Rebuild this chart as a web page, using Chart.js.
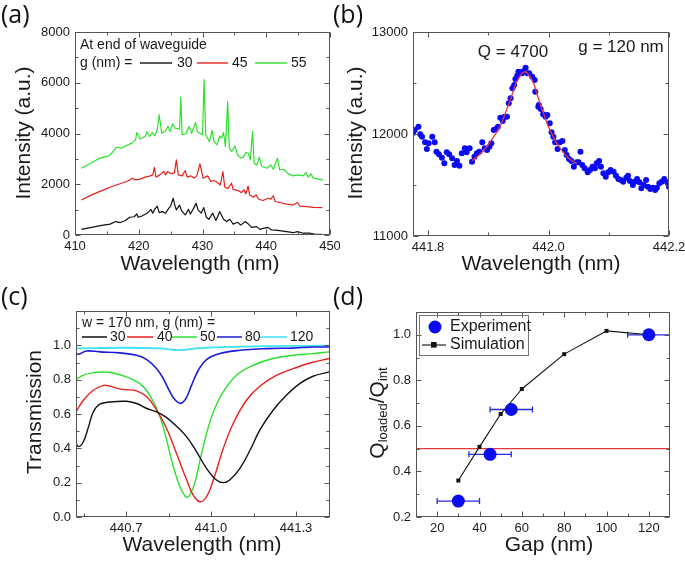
<!DOCTYPE html>
<html><head><meta charset="utf-8">
<script src="https://cdn.jsdelivr.net/npm/chart.js@4.4.0/dist/chart.umd.min.js"></script>
<style>
html,body{margin:0;padding:0;background:#fff;}
#wrap{position:relative;width:685px;height:561px;overflow:hidden;background:#fff;}
canvas{position:absolute;}
.pl{position:absolute;font-family:"Open Sans",sans-serif;font-size:25px;line-height:1;color:#111;z-index:5;}
</style></head><body>
<div id="wrap">
<canvas id="ca" width="340" height="280" style="left:0;top:0"></canvas>
<canvas id="cb" width="345" height="280" style="left:340px;top:0"></canvas>
<canvas id="cc" width="340" height="281" style="left:0;top:280px"></canvas>
<canvas id="cd" width="345" height="281" style="left:340px;top:280px"></canvas>
<div class="pl" style="left:1px;top:1px">(a)</div>
<div class="pl" style="left:333px;top:1px">(b)</div>
<div class="pl" style="left:1px;top:283px">(c)</div>
<div class="pl" style="left:333px;top:283px">(d)</div>
</div>
<script>
// ---------- Panel (a): spectra at end of waveguide ----------
const aWl30 = [411.0,412.6,414.2,415.5,416.4,417.1,417.9,418.6,419.3,419.7,419.9,420.5,421.1,421.6,421.9,422.2,422.5,422.9,423.2,423.7,424.2,424.7,425.0,425.4,425.7,425.9,426.4,426.7,427.3,427.8,428.1,428.6,429.0,429.3,429.8,430.2,430.6,431.0,431.6,432.1,432.7,433.3,433.8,434.3,434.8,435.5,436.0,436.7,437.2,437.7,438.5,439.0,439.5,440.3,440.8,441.5,442.1,443.2,444.2,444.9,445.8,446.9,447.6,448.7];
const aInt30 = [220,300,380,430,530,490,570,700,720,830,700,750,830,920,1010,860,1010,1140,880,920,860,1050,1140,1450,1140,990,1180,960,790,1010,830,1050,1250,990,860,1080,700,620,860,570,920,620,530,620,430,500,390,530,430,300,330,220,260,300,200,190,170,130,90,130,70,70,40,30];
const aWl45 = [411.0,412.6,414.2,415.8,417.3,418.4,419.0,419.4,420.2,421.0,421.8,422.2,422.45,422.7,423.3,423.9,424.2,424.5,425.1,425.6,425.9,426.2,426.8,427.3,427.6,428.2,428.7,429.1,429.6,430.1,430.8,431.3,431.7,432.1,432.5,432.8,433.2,433.5,434.0,434.55,434.8,435.6,436.1,436.5,436.8,437.15,437.4,438.0,438.4,438.8,439.5,440.3,440.7,441.1,441.4,442.1,443.2,444.2,444.9,445.3,446.3,447.4,448.8];
const aInt45 = [1380,1580,1750,1910,2040,2140,2240,2170,2200,2280,2330,2370,2670,2280,2370,2500,2370,2500,2410,2460,2960,2370,2330,2540,2280,2330,2240,2330,2800,2240,2330,2110,2150,2110,2040,1970,2500,1880,1840,2040,1800,1750,1670,1780,1620,1930,1580,1490,1580,1410,1360,1450,1410,1540,1320,1280,1220,1180,1280,1140,1120,1090,1080];
const aWl55 = [411.0,412.6,413.9,415.3,416.0,416.5,417.3,417.9,418.9,419.5,419.7,420.2,421.0,421.3,421.7,422.1,422.5,422.9,423.2,423.6,424.1,424.6,424.9,425.3,425.7,426.4,426.6,426.8,427.4,427.9,428.3,428.9,429.2,429.6,430.0,430.25,430.5,431.1,431.5,431.8,432.3,432.7,433.0,433.3,433.6,433.95,434.2,434.6,435.1,435.5,436.0,436.4,436.8,437.2,437.5,437.85,438.1,438.5,438.9,439.3,440.1,440.7,441.1,441.75,442.1,442.7,443.5,444.2,445.0,445.8,446.2,446.6,447.0,447.4,448.2,448.9];
const aInt55 = [2630,2850,3030,3120,3290,3460,3420,3510,3620,3750,4040,3780,3880,4070,3880,4040,3910,4140,4740,4010,4080,4280,4080,4380,4210,4170,5430,3950,3990,4280,4010,4430,4080,4010,3950,6120,3950,3680,4120,3680,3550,3900,3820,4040,3490,5260,3420,3290,3510,3160,3030,3070,3250,3220,2960,4080,2830,2760,3070,2700,2630,2760,2590,3030,2570,2590,2410,2330,2370,2330,2460,2280,2410,2240,2200,2170];
const aGapLabels = ['30','45','55'];
const aXTicks = [410,420,430,440,450], aXMinor = [415,425,435,445];
const aYTicks = [0,2000,4000,6000,8000], aYMinor = [1000,3000,5000,7000];

// ---------- Panel (b): resonance, g = 120 nm ----------
const bWl = [441.775,441.778,441.784,441.787,441.790,441.795,441.798,441.801,441.807,441.811,441.814,441.818,441.823,441.827,441.831,441.835,441.840,441.844,441.848,441.852,441.856,441.861,441.864,441.869,441.873,441.877,441.881,441.885,441.890,441.894,441.898,441.902,441.905,441.909,441.913,441.916,441.920,441.924,441.927,441.931,441.934,441.937,441.940,441.943,441.945,441.948,441.950,441.954,441.956,441.959,441.962,441.965,441.968,441.973,441.977,441.978,441.983,441.984,441.987,441.991,441.995,441.998,442.002,442.005,442.008,442.011,442.015,442.019,442.023,442.027,442.030,442.034,442.038,442.042,442.047,442.050,442.053,442.056,442.060,442.065,442.069,442.073,442.077,442.080,442.084,442.087,442.091,442.095,442.099,442.103,442.108,442.112,442.116,442.120,442.124,442.129,442.132,442.135,442.140,442.143,442.147,442.151,442.154,442.158,442.162,442.165,442.169,442.173,442.177,442.180,442.184,442.188,442.192,442.197,442.200];
const bInt = [12010,12039,12072,11997,11974,11919,11853,11909,11974,11919,11826,11801,11768,11713,11821,11801,11762,11696,11735,11689,11811,11860,11821,11860,11728,11777,11811,11826,11919,11860,11843,11876,11909,12039,12049,12072,12160,12127,12170,12170,12301,12350,12448,12480,12539,12572,12611,12605,12595,12618,12650,12595,12595,12562,12529,12415,12268,12284,12245,12193,12170,12186,12105,12017,11974,11919,11853,11919,11931,11843,11794,11755,11735,11679,11723,11723,11826,11696,11664,11625,11647,11679,11664,11713,11735,11679,11615,11581,11625,11647,11630,11591,11559,11549,11532,11572,11591,11539,11500,11532,11559,11526,11468,11500,11549,11483,11461,11474,11451,11474,11517,11532,11559,11526,11483];
const bFitWl = [441.873,441.886,441.898,441.911,441.920,441.928,441.937,441.945,441.954,441.960,441.966,441.975,441.983,441.992,442.000,442.009,442.017,442.026,442.034,442.047];
const bFitInt = [11740,11800,11880,11990,12080,12200,12340,12480,12580,12610,12590,12500,12350,12200,12070,11960,11880,11810,11760,11710];
const bXTicks = [441.8,442.0,442.2], bXMinor = [441.9,442.1];
const bYTicks = [11000,12000,13000], bYMinor = [11500,12500];

// ---------- Panel (c): simulated transmission ----------
const cWl30 = [440.520,440.532,440.549,440.567,440.584,440.607,440.643,440.701,440.737,440.773,440.808,440.843,440.878,440.914,440.949,440.984,441.019,441.043,441.066,441.102,441.138,441.172,441.219,441.266,441.313,441.360,441.417];
const cT30 = [0.438,0.41,0.438,0.525,0.612,0.657,0.670,0.674,0.661,0.632,0.612,0.579,0.529,0.467,0.380,0.283,0.215,0.2,0.215,0.283,0.390,0.506,0.622,0.709,0.777,0.820,0.845];
const cWl40 = [440.520,440.549,440.584,440.620,440.643,440.673,440.701,440.737,440.773,440.808,440.843,440.878,440.914,440.937,440.961,440.984,441.008,441.043,441.078,441.125,441.172,441.232,441.290,441.349,441.417];
const cT40 = [0.603,0.680,0.738,0.767,0.762,0.748,0.742,0.735,0.700,0.622,0.516,0.370,0.215,0.128,0.089,0.118,0.215,0.399,0.545,0.680,0.762,0.826,0.864,0.897,0.923];
const cWl50 = [440.520,440.549,440.584,440.620,440.654,440.701,440.749,440.784,440.820,440.843,440.867,440.890,440.908,440.916,440.925,440.943,440.961,440.984,441.008,441.043,441.090,441.149,441.219,441.290,441.360,441.417];
const cT50 = [0.797,0.826,0.841,0.845,0.839,0.816,0.777,0.709,0.583,0.448,0.293,0.176,0.122,0.115,0.128,0.2,0.331,0.486,0.612,0.729,0.826,0.884,0.923,0.942,0.952,0.962];
const cWl80 = [440.520,440.532,440.560,440.607,440.678,440.737,440.773,440.808,440.831,440.855,440.872,440.892,440.911,440.931,440.955,440.984,441.031,441.102,441.196,441.290,441.360,441.417];
const cT80 = [0.955,0.948,0.967,0.962,0.956,0.942,0.917,0.864,0.806,0.729,0.684,0.662,0.690,0.767,0.855,0.917,0.952,0.971,0.981,0.984,0.990,0.990];
const cWl120 = [440.520,440.701,440.820,440.890,440.961,441.114,441.417];
const cT120 = [0.982,0.986,0.982,0.972,0.984,0.993,0.998];
const cGapLabels = ['30','40','50','80','120'];
const cXTicks = [440.7,441.0,441.3], cXMinor = [440.55,440.85,441.15];
const cYTicks = [0,0.2,0.4,0.6,0.8,1.0], cYMinor = [0.1,0.3,0.5,0.7,0.9,1.1];

// ---------- Panel (d): Q ratio vs gap ----------
const dExpGap = [30,45,55,120];
const dExpRatio = [0.27,0.475,0.672,1.0];
const dExpGapErr = [10,10,10,10];
const dSimGap = [30,40,50,60,80,100,120];
const dSimRatio = [0.36,0.508,0.652,0.762,0.915,1.017,1.0];
const dCritical = 0.5;
const dXTicks = [20,40,60,80,100,120], dXMinor = [30,50,70,90,110];
const dYTicks = [0.2,0.4,0.6,0.8,1.0], dYMinor = [0.3,0.5,0.7,0.9];

// ---------- styling ----------
const FONT = '"Liberation Sans", Arial, sans-serif';
const FRAME = '#555';
const TXT = '#1a1a1a';
const COL = {black:'#111111', red:'#e8201c', green:'#2ee02e', blue:'#1c1cd6', cyan:'#3ee2f2', dot:'#0b0bf2'};

const xy = (xs, ys) => xs.map((v,i)=>({x:v, y:ys[i]}));

function deco(o){
  return {
    id:'deco',
    beforeDatasetsDraw(chart){ if(o.under) o.under(chart, chart.ctx); },
    afterDraw(chart){
      const ctx = chart.ctx, a = chart.chartArea, xs = chart.scales.x, ys = chart.scales.y;
      ctx.save();
      const L = Math.round(a.left)+0.5, R = Math.round(a.right)-0.5, T = Math.round(a.top)+0.5, B = Math.round(a.bottom)-0.5;
      ctx.strokeStyle = FRAME; ctx.lineWidth = 1;
      ctx.beginPath();
      const xt = (vals,len)=>vals.forEach(v=>{const p=Math.round(xs.getPixelForValue(v))+0.5; ctx.moveTo(p,B); ctx.lineTo(p,B-len); ctx.moveTo(p,T); ctx.lineTo(p,T+len);});
      const yt = (vals,len)=>vals.forEach(v=>{const p=Math.round(ys.getPixelForValue(v))+0.5; ctx.moveTo(L,p); ctx.lineTo(L+len,p); ctx.moveTo(R,p); ctx.lineTo(R-len,p);});
      xt(o.xMajor,5); xt(o.xMinor,3); yt(o.yMajor,5); yt(o.yMinor,3);
      ctx.stroke();
      ctx.strokeRect(L,T,R-L,B-T);
      ctx.fillStyle = TXT; ctx.textAlign='center'; ctx.textBaseline='middle';
      ctx.font = `21px ${FONT}`;
      ctx.fillText(o.xTitle, o.xTitlePos[0], o.xTitlePos[1]);
      if (o.yTitle){
        ctx.save(); ctx.translate(o.yTitlePos[0], o.yTitlePos[1]); ctx.rotate(-Math.PI/2);
        ctx.fillText(o.yTitle,0,0); ctx.restore();
      }
      if (o.extra) o.extra(chart, ctx);
      ctx.restore();
    }
  };
}

function opts(L){
  const tickFont = {family:FONT, size:13};
  return {
    responsive:false, animation:false, devicePixelRatio:1, events:[],
    layout:{padding:{left:0, top:L.top, right:L.right, bottom:0}},
    plugins:{legend:{display:false}, tooltip:{enabled:false}},
    elements:{line:{borderJoinStyle:'round'}},
    scales:{
      x:{type:'linear', min:L.xMin, max:L.xMax,
         grid:{display:false, drawTicks:false}, border:{display:false},
         ticks:{font:tickFont, color:TXT, padding:4, autoSkip:false, maxRotation:0, minRotation:0, callback:L.xFmt},
         afterBuildTicks:s=>{s.ticks = L.xTicks.map(v=>({value:v}));},
         afterFit:s=>{s.height=L.xH; s.paddingLeft=0; s.paddingRight=0;}},
      y:{type:'linear', min:L.yMin, max:L.yMax,
         grid:{display:false, drawTicks:false}, border:{display:false},
         ticks:{font:tickFont, color:TXT, padding:5, autoSkip:false, callback:L.yFmt},
         afterBuildTicks:s=>{s.ticks = L.yTicks.map(v=>({value:v}));},
         afterFit:s=>{s.width=L.yW; s.paddingTop=0; s.paddingBottom=0;}}
    }
  };
}

function lineDs(data, color, width, tension){
  return {data, borderColor:color, borderWidth:width, showLine:true, pointRadius:0, fill:false, tension:tension||0};
}

function legendLine(ctx, x1, x2, y, color, w){
  ctx.save(); ctx.strokeStyle=color; ctx.lineWidth=w; ctx.beginPath(); ctx.moveTo(x1,y); ctx.lineTo(x2,y); ctx.stroke(); ctx.restore();
}

// ---------- Chart (a) ----------
new Chart(document.getElementById('ca'), {
  type:'scatter',
  data:{datasets:[
    lineDs(xy(aWl30,aInt30), COL.black, 1.2),
    lineDs(xy(aWl45,aInt45), COL.red, 1.2),
    lineDs(xy(aWl55,aInt55), COL.green, 1.2)
  ]},
  options:opts({top:32, right:10, xH:45, yW:75, xMin:410, xMax:450, yMin:0, yMax:8000,
    xTicks:aXTicks, yTicks:aYTicks, xFmt:v=>String(v), yFmt:v=>String(v)}),
  plugins:[deco({xMajor:aXTicks, xMinor:aXMinor, yMajor:aYTicks, yMinor:aYMinor,
    xTitle:'Wavelength (nm)', xTitlePos:[200,264], yTitle:'Intensity (a.u.)', yTitlePos:[24,133],
    extra:(chart, ctx)=>{
      ctx.font = `14px ${FONT}`; ctx.textAlign='left'; ctx.textBaseline='middle'; ctx.fillStyle=TXT;
      ctx.fillText('At end of waveguide', 80, 45);
      ctx.fillText('g (nm) =', 80, 63);
      const segs = [[140,172,177],[197,228,232],[255,287,291]];
      const cols = [COL.black, COL.red, COL.green];
      segs.forEach((s,i)=>{ legendLine(ctx, s[0], s[1], 63, cols[i], 1.4); ctx.fillText(aGapLabels[i], s[2], 63); });
    }})]
});

// ---------- Chart (b) ----------
new Chart(document.getElementById('cb'), {
  type:'scatter',
  data:{datasets:[
    lineDs(xy(bFitWl,bFitInt), '#e53a3a', 1.3, 0.4),
    {data:xy(bWl,bInt), showLine:false, pointRadius:3, pointBackgroundColor:COL.dot, pointBorderWidth:0, borderColor:COL.dot}
  ]},
  options:opts({top:32, right:16, xH:44, yW:73, xMin:441.775, xMax:442.2, yMin:11000, yMax:13000,
    xTicks:bXTicks, yTicks:bYTicks, xFmt:v=>v.toFixed(1), yFmt:v=>String(v)}),
  plugins:[deco({xMajor:bXTicks, xMinor:bXMinor, yMajor:bYTicks, yMinor:bYMinor,
    xTitle:'Wavelength (nm)', xTitlePos:[201,264], yTitle:'Intensity (a.u.)', yTitlePos:[16,133],
    extra:(chart, ctx)=>{
      ctx.font = `17px ${FONT}`; ctx.textAlign='center'; ctx.textBaseline='middle'; ctx.fillStyle=TXT;
      ctx.fillText('Q = 4700', 173, 52);
      ctx.fillText('g = 120 nm', 281, 47);
    }})]
});

// ---------- Chart (c) ----------
new Chart(document.getElementById('cc'), {
  type:'scatter',
  data:{datasets:[
    lineDs(xy(cWl30,cT30), COL.black, 1.4, 0.4),
    lineDs(xy(cWl40,cT40), COL.red, 1.4, 0.4),
    lineDs(xy(cWl50,cT50), COL.green, 1.4, 0.4),
    lineDs(xy(cWl80,cT80), COL.blue, 1.6, 0.4),
    lineDs(xy(cWl120,cT120), COL.cyan, 1.8, 0.4)
  ]},
  options:opts({top:31, right:10, xH:44, yW:76, xMin:440.523, xMax:441.42, yMin:0, yMax:1.2,
    xTicks:cXTicks, yTicks:cYTicks, xFmt:v=>v.toFixed(1), yFmt:v=>v.toFixed(1)}),
  plugins:[deco({xMajor:cXTicks, xMinor:cXMinor, yMajor:cYTicks, yMinor:cYMinor,
    xTitle:'Wavelength (nm)', xTitlePos:[202,265], yTitle:'Transmission', yTitlePos:[35,132],
    extra:(chart, ctx)=>{
      ctx.font = `14px ${FONT}`; ctx.textAlign='left'; ctx.textBaseline='middle'; ctx.fillStyle=TXT;
      ctx.fillText('w = 170 nm, g (nm) =', 82, 43);
      const segs = [[82,107,110],[127,153,157],[172,197,200],[217,242,245],[260,287,290]];
      const cols = [COL.black, COL.red, COL.green, COL.blue, COL.cyan];
      segs.forEach((s,i)=>{ legendLine(ctx, s[0], s[1], 57, cols[i], 1.5); ctx.fillText(cGapLabels[i], s[2], 57); });
    }})]
});

// ---------- Chart (d) ----------
new Chart(document.getElementById('cd'), {
  type:'scatter',
  data:{datasets:[
    {data:xy(dExpGap,dExpRatio), showLine:false, pointRadius:6.5, pointBackgroundColor:COL.dot, pointBorderWidth:0, borderColor:COL.dot},
    {data:xy(dSimGap,dSimRatio), showLine:true, borderColor:'#111', borderWidth:1.1, pointStyle:'rect', pointRadius:2.8, pointBackgroundColor:'#111', pointBorderWidth:0},
    lineDs([{x:10,y:dCritical},{x:130,y:dCritical}], '#e03a3a', 1.3)
  ]},
  options:opts({top:32, right:15, xH:44, yW:76, xMin:10, xMax:130, yMin:0.2, yMax:1.1,
    xTicks:dXTicks, yTicks:dYTicks, xFmt:v=>String(v), yFmt:v=>v.toFixed(1)}),
  plugins:[deco({xMajor:dXTicks, xMinor:dXMinor, yMajor:dYTicks, yMinor:dYMinor,
    xTitle:'Gap (nm)', xTitlePos:[209,265], yTitle:null,
    under:(chart, ctx)=>{
      const xs = chart.scales.x, ys = chart.scales.y, a = chart.chartArea;
      ctx.save();
      ctx.beginPath(); ctx.rect(a.left, a.top, a.width, a.height); ctx.clip();
      ctx.strokeStyle = '#2a2ae0'; ctx.lineWidth = 1.3; ctx.beginPath();
      dExpGap.forEach((g,i)=>{
        const y = ys.getPixelForValue(dExpRatio[i]);
        const x1 = xs.getPixelForValue(g - dExpGapErr[i]), x2 = xs.getPixelForValue(g + dExpGapErr[i]);
        ctx.moveTo(x1,y); ctx.lineTo(x2,y);
        ctx.moveTo(x1,y-3); ctx.lineTo(x1,y+3);
        ctx.moveTo(x2,y-3); ctx.lineTo(x2,y+3);
      });
      ctx.stroke(); ctx.restore();
    },
    extra:(chart, ctx)=>{
      ctx.save(); ctx.translate(38,133); ctx.rotate(-Math.PI/2);
      const parts = [['Q',21,0],['loaded',13,5],['/Q',21,0],['int',13,5]];
      let w = 0; parts.forEach(p=>{ctx.font=`${p[1]}px ${FONT}`; w += ctx.measureText(p[0]).width;});
      let x = -w/2; ctx.textAlign='left'; ctx.textBaseline='middle'; ctx.fillStyle=TXT;
      parts.forEach(p=>{ctx.font=`${p[1]}px ${FONT}`; ctx.fillText(p[0], x, p[2]); x += ctx.measureText(p[0]).width;});
      ctx.restore();
      ctx.save();
      ctx.strokeStyle = '#777'; ctx.lineWidth = 1; ctx.strokeRect(79.5, 35.5, 109, 40);
      ctx.fillStyle = COL.dot; ctx.beginPath(); ctx.arc(95, 47, 6.5, 0, Math.PI*2); ctx.fill();
      legendLine(ctx, 82, 106, 65, '#111', 1.1);
      ctx.fillStyle = '#111'; ctx.fillRect(91, 62, 5.6, 5.6);
      ctx.font = `16px ${FONT}`; ctx.textAlign='left'; ctx.textBaseline='middle'; ctx.fillStyle=TXT;
      ctx.fillText('Experiment', 110, 47);
      ctx.fillText('Simulation', 110, 65);
      ctx.restore();
    }})]
});
</script>
</body></html>
